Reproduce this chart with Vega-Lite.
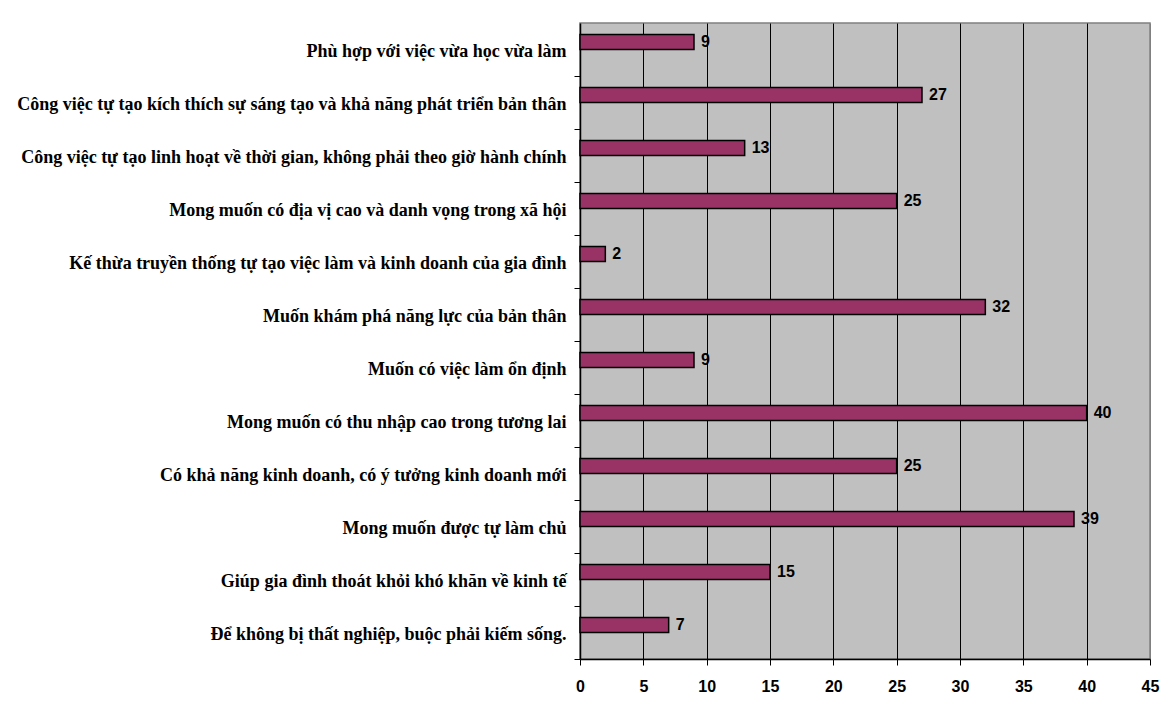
{
  "$schema": "https://vega.github.io/schema/vega-lite/v6.json",
  "autosize": "none",
  "width": 570,
  "height": 636,
  "padding": {"left": 580, "top": 23, "right": 24, "bottom": 54},
  "background": "white",
  "config": {
    "view": {"fill": "#C0C0C0", "stroke": "#808080", "strokeWidth": 1.5}
  },
  "data": {
    "values": [
      {"reason": "Phù hợp với việc vừa học vừa làm", "count": 9},
      {"reason": "Công việc tự tạo kích thích sự sáng tạo và khả năng phát triển bản thân", "count": 27},
      {"reason": "Công việc tự tạo linh hoạt về thời gian, không phải theo giờ hành chính", "count": 13},
      {"reason": "Mong muốn có địa vị cao và danh vọng trong xã hội", "count": 25},
      {"reason": "Kế thừa truyền thống tự tạo việc làm và kinh doanh của gia đình", "count": 2},
      {"reason": "Muốn khám phá năng lực của bản thân", "count": 32},
      {"reason": "Muốn có việc làm ổn định", "count": 9},
      {"reason": "Mong muốn có thu nhập cao trong tương lai", "count": 40},
      {"reason": "Có khả năng kinh doanh, có ý tưởng kinh doanh mới", "count": 25},
      {"reason": "Mong muốn được tự làm chủ", "count": 39},
      {"reason": "Giúp gia đình thoát khỏi khó khăn về kinh tế", "count": 15},
      {"reason": "Để không bị thất nghiệp, buộc phải kiếm sống.", "count": 7}
    ]
  },
  "encoding": {
    "y": {
      "field": "reason",
      "type": "nominal",
      "sort": null,
      "scale": {"paddingInner": 0, "paddingOuter": 0},
      "axis": {
        "title": null,
        "bandPosition": 1,
        "labelOffset": 2,
        "labelFont": "Liberation Serif",
        "labelFontWeight": "bold",
        "labelFontSize": 18,
        "labelColor": "black",
        "labelLimit": 600,
        "labelPadding": 8,
        "tickSize": 6,
        "tickColor": "black",
        "domainColor": "black",
        "domainWidth": 1.5,
        "grid": false
      }
    },
    "x": {
      "field": "count",
      "type": "quantitative",
      "scale": {"domain": [0, 45], "nice": false},
      "axis": {
        "title": null,
        "values": [0, 5, 10, 15, 20, 25, 30, 35, 40, 45],
        "grid": true,
        "gridColor": {"condition": {"test": "datum.value === 45 || datum.value === 0", "value": "#808080"}, "value": "black"},
        "gridOpacity": 1,
        "gridWidth": 1,
        "tickSize": 6,
        "tickColor": "black",
        "domainColor": "black",
        "domainWidth": 1.5,
        "labelFont": "Liberation Sans",
        "labelFontWeight": "bold",
        "labelFontSize": 16,
        "labelColor": "black",
        "labelPadding": 13,
        "labelFlush": false
      }
    }
  },
  "layer": [
    {
      "mark": {"type": "bar", "height": 15, "yOffset": -7.5, "color": "#993366", "stroke": "black", "strokeWidth": 1.5}
    },
    {
      "mark": {"type": "text", "align": "left", "baseline": "middle", "dx": 7, "yOffset": -7.5, "font": "Liberation Sans", "fontWeight": "bold", "fontSize": 16, "color": "black"},
      "encoding": {"text": {"field": "count", "type": "quantitative"}}
    }
  ]
}
